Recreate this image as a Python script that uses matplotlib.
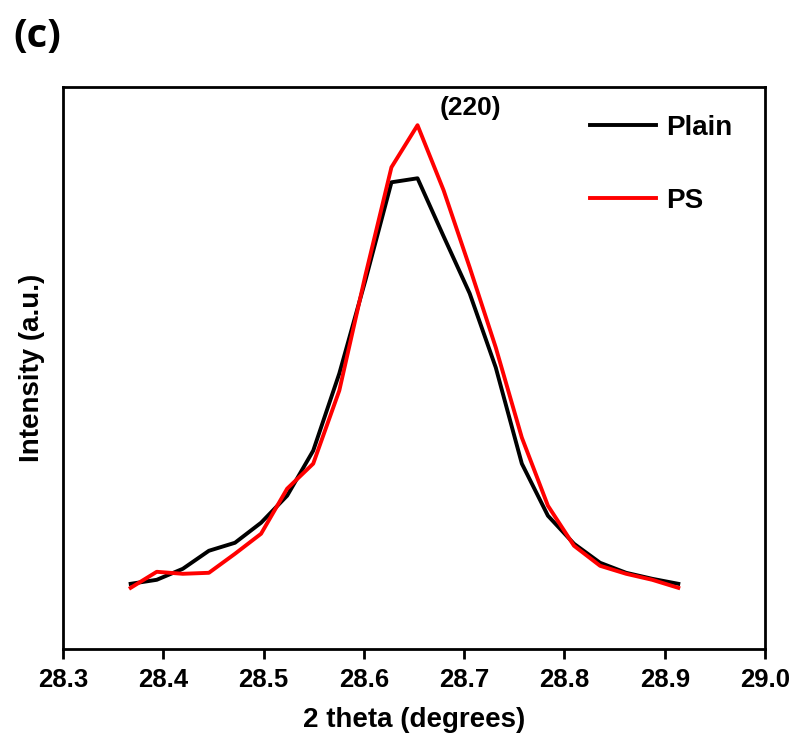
import numpy as np
import matplotlib
matplotlib.use("Agg")
import matplotlib.pyplot as plt

# 2-theta positions (degrees) of the scan points around the (220) peak
two_theta = [28.3675, 28.3935, 28.4195, 28.4455, 28.4715, 28.4975, 28.5235,
             28.5495, 28.5755, 28.6015, 28.6275, 28.6535, 28.6795, 28.7055,
             28.7315, 28.7575, 28.7835, 28.8095, 28.8355, 28.8615, 28.8875,
             28.9135]

# intensities (a.u.)
plain = [65, 69, 80, 98, 106, 126, 153, 198, 275, 368, 466, 470,
         412, 355, 281, 185, 133, 105, 86, 76, 70, 65]
ps = [61, 77, 75, 76, 95, 115, 160, 185, 258, 373, 481, 523,
      458, 381, 301, 211, 143, 103, 83, 75, 69, 61]

x_ticks = [28.3, 28.4, 28.5, 28.6, 28.7, 28.8, 28.9, 29.0]

plt.rcParams['font.family'] = ['Liberation Sans', 'DejaVu Sans']
plt.rcParams['font.weight'] = 'bold'

fig = plt.figure(figsize=(7.92, 7.45), dpi=100)
ax = fig.add_axes([0.0795, 0.129, 0.8865, 0.754])

ax.plot(two_theta, plain, color='black', lw=2.8, label='Plain')
ax.plot(two_theta, ps, color='#ff0000', lw=2.8, label='PS')

ax.set_xlim(28.3, 29.0)
ax.set_ylim(0, 561)
ax.set_xticks(x_ticks)
ax.set_xticklabels(['%.1f' % t for t in x_ticks])
ax.set_yticks([])
ax.tick_params(axis='x', direction='out', length=7.5, width=2, labelsize=18.5, pad=6)
for s in ax.spines.values():
    s.set_linewidth(2)

ax.set_xlabel('2 theta (degrees)', fontsize=20, fontweight='bold', labelpad=11)
ax.set_ylabel('Intensity (a.u.)', fontsize=20, fontweight='bold', labelpad=13)

ax.text(28.706, 540, '(220)', fontsize=19, fontweight='bold', ha='center', va='center')

leg = ax.legend(loc='upper right', frameon=False, fontsize=20, handlelength=2.4,
                labelspacing=1.7, handletextpad=0.35, borderaxespad=0.6,
                bbox_to_anchor=(0.993, 1.0))
for t in leg.get_texts():
    t.set_fontweight('bold')

fig.text(0.047, 0.951, '(c)', fontsize=29, fontweight='bold', ha='center', va='center',
         family=['Open Sans', 'DejaVu Sans'])

fig.savefig('out.png', dpi=100)
